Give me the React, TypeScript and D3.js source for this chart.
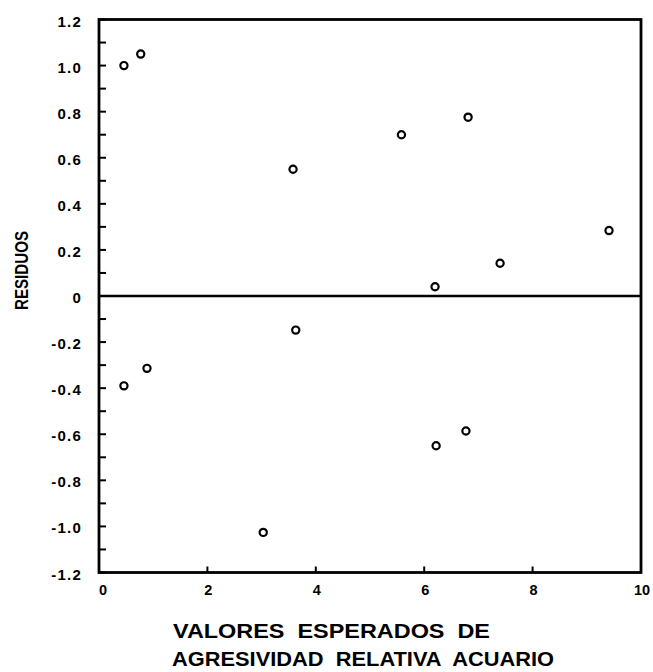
import React from "react";
import * as d3 from "d3";

// Expected values (x) and residuals (y) for each observation
const expected: number[] = [0.46, 0.77, 3.58, 5.58, 6.81, 9.41, 7.40, 6.20, 0.46, 0.885, 3.63, 6.22, 6.77, 3.03];
const residuals: number[] = [1.0, 1.05, 0.55, 0.70, 0.776, 0.284, 0.142, 0.04, -0.39, -0.314, -0.148, -0.65, -0.586, -1.026];

const xTicks: number[] = [0, 2, 4, 6, 8, 10];
const yTicks: number[] = [1.2, 1.0, 0.8, 0.6, 0.4, 0.2, 0, -0.2, -0.4, -0.6, -0.8, -1.0, -1.2];
const yMinorTicks: number[] = d3.range(-12, 13).map((v) => v / 10);

const xTitleLines: string[] = ["VALORES  ESPERADOS  DE", "AGRESIVIDAD  RELATIVA  ACUARIO"];
const yTitle = "RESIDUOS";

const W = 653;
const H = 672;
const left = 99;
const right = 641;
const top = 19.5;
const bottom = 572.5;

const fontFamily = "'Liberation Sans', Arial, Helvetica, sans-serif";

function fmtY(v: number): string {
  if (v === 0) return "0";
  return (v < 0 ? "-" : "") + Math.abs(v).toFixed(1);
}

export default function App() {
  const x = d3.scaleLinear().domain([0, 10]).range([left, right]);
  const y = d3.scaleLinear().domain([-1.2, 1.2]).range([bottom, top]);

  return (
    <svg
      width={W}
      height={H}
      viewBox={`0 0 ${W} ${H}`}
      style={{ position: "absolute", left: 0, top: 0, background: "#fff" }}
    >
      {/* inner ticks on the y axis */}
      {yMinorTicks.map((v) => (
        <line key={`ym${v}`} x1={left} x2={left + 7} y1={y(v)} y2={y(v)} stroke="#000" strokeWidth={2} />
      ))}
      {/* inner ticks on the x axis */}
      {xTicks.map((v) => (
        <line key={`xt${v}`} x1={x(v)} x2={x(v)} y1={bottom} y2={bottom - 6} stroke="#000" strokeWidth={2} />
      ))}

      {/* zero reference line */}
      <line x1={left} x2={right} y1={y(0)} y2={y(0)} stroke="#000" strokeWidth={2.3} />

      {/* plot frame */}
      <rect x={left} y={top} width={right - left} height={bottom - top} fill="none" stroke="#000" strokeWidth={2.8} />

      {/* y tick labels */}
      {yTicks.map((v) => (
        <text
          key={`yl${v}`}
          x={82}
          y={y(v) + 1.5}
          textAnchor="end"
          dominantBaseline="central"
          fontFamily={fontFamily}
          fontWeight="bold"
          fontSize={15}
          letterSpacing={1.2}
          fill="#000"
        >
          {fmtY(v)}
        </text>
      ))}

      {/* x tick labels */}
      {xTicks.map((v) => (
        <text
          key={`xl${v}`}
          x={x(v) + (v === 0 ? 4 : 1)}
          y={590}
          textAnchor="middle"
          dominantBaseline="central"
          fontFamily={fontFamily}
          fontWeight="bold"
          fontSize={14.5}
          fill="#000"
        >
          {v}
        </text>
      ))}

      {/* data points */}
      {expected.map((ev, i) => (
        <circle key={`p${i}`} cx={x(ev)} cy={y(residuals[i])} r={3.6} fill="#fff" stroke="#000" strokeWidth={2.2} />
      ))}

      {/* axis titles */}
      <text
        x={173}
        y={638}
        textLength={317}
        lengthAdjust="spacingAndGlyphs"
        fontFamily={fontFamily}
        fontWeight="bold"
        fontSize={21}
        fill="#000"
        style={{ whiteSpace: "pre" }}
      >
        {xTitleLines[0]}
      </text>
      <text
        x={172}
        y={666}
        textLength={382}
        lengthAdjust="spacingAndGlyphs"
        fontFamily={fontFamily}
        fontWeight="bold"
        fontSize={21}
        fill="#000"
        style={{ whiteSpace: "pre" }}
      >
        {xTitleLines[1]}
      </text>
      <text
        transform={`translate(28, ${310}) rotate(-90)`}
        textLength={79}
        lengthAdjust="spacingAndGlyphs"
        fontFamily={fontFamily}
        fontWeight="bold"
        fontSize={18}
        fill="#000"
      >
        {yTitle}
      </text>
    </svg>
  );
}
